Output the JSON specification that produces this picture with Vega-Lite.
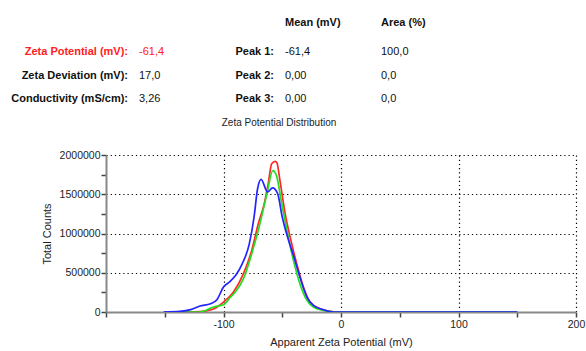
{
  "$schema": "https://vega.github.io/schema/vega-lite/v6.json",
  "width": 470,
  "height": 157,
  "autosize": {"type": "none"},
  "padding": {"left": 106, "top": 155, "right": 10, "bottom": 39},
  "background": "white",
  "config": {
    "font": "Liberation Sans",
    "view": {"stroke": null}
  },
  "datasets": {
    "curves": [
      {"run": "Record 1", "x": -150, "y": 0},
      {"run": "Record 1", "x": -130, "y": 0},
      {"run": "Record 1", "x": -120, "y": 5000},
      {"run": "Record 1", "x": -115, "y": 15000},
      {"run": "Record 1", "x": -108, "y": 42000},
      {"run": "Record 1", "x": -100, "y": 127000},
      {"run": "Record 1", "x": -91.5, "y": 255000},
      {"run": "Record 1", "x": -83, "y": 488000},
      {"run": "Record 1", "x": -76, "y": 785000},
      {"run": "Record 1", "x": -70, "y": 1146000},
      {"run": "Record 1", "x": -66, "y": 1337000},
      {"run": "Record 1", "x": -62, "y": 1630000},
      {"run": "Record 1", "x": -59, "y": 1890000},
      {"run": "Record 1", "x": -56, "y": 1920000},
      {"run": "Record 1", "x": -54.5, "y": 1900000},
      {"run": "Record 1", "x": -52, "y": 1680000},
      {"run": "Record 1", "x": -47.5, "y": 1250000},
      {"run": "Record 1", "x": -43.3, "y": 955000},
      {"run": "Record 1", "x": -37.7, "y": 616000},
      {"run": "Record 1", "x": -32, "y": 318000},
      {"run": "Record 1", "x": -26.3, "y": 127000},
      {"run": "Record 1", "x": -18, "y": 42000},
      {"run": "Record 1", "x": -9, "y": 8000},
      {"run": "Record 1", "x": -3, "y": 0},
      {"run": "Record 1", "x": 0, "y": 0},
      {"run": "Record 1", "x": 50, "y": 0},
      {"run": "Record 1", "x": 100, "y": 0},
      {"run": "Record 1", "x": 150, "y": 0},
      {"run": "Record 2", "x": -150, "y": 0},
      {"run": "Record 2", "x": -120, "y": 0},
      {"run": "Record 2", "x": -108.5, "y": 64000},
      {"run": "Record 2", "x": -100, "y": 93000},
      {"run": "Record 2", "x": -94, "y": 191000},
      {"run": "Record 2", "x": -90, "y": 255000},
      {"run": "Record 2", "x": -83, "y": 425000},
      {"run": "Record 2", "x": -76, "y": 743000},
      {"run": "Record 2", "x": -69, "y": 1125000},
      {"run": "Record 2", "x": -63, "y": 1510000},
      {"run": "Record 2", "x": -58, "y": 1800000},
      {"run": "Record 2", "x": -55, "y": 1740000},
      {"run": "Record 2", "x": -50.4, "y": 1380000},
      {"run": "Record 2", "x": -46, "y": 1040000},
      {"run": "Record 2", "x": -40.5, "y": 658000},
      {"run": "Record 2", "x": -35, "y": 361000},
      {"run": "Record 2", "x": -29, "y": 149000},
      {"run": "Record 2", "x": -23.5, "y": 64000},
      {"run": "Record 2", "x": -15, "y": 21000},
      {"run": "Record 2", "x": -7, "y": 3000},
      {"run": "Record 2", "x": -3, "y": 0},
      {"run": "Record 2", "x": 0, "y": 0},
      {"run": "Record 2", "x": 50, "y": 0},
      {"run": "Record 2", "x": 100, "y": 0},
      {"run": "Record 2", "x": 150, "y": 0},
      {"run": "Record 3", "x": -151, "y": 0},
      {"run": "Record 3", "x": -137, "y": 8000},
      {"run": "Record 3", "x": -128, "y": 30000},
      {"run": "Record 3", "x": -120, "y": 76000},
      {"run": "Record 3", "x": -111, "y": 106000},
      {"run": "Record 3", "x": -105.6, "y": 157000},
      {"run": "Record 3", "x": -100, "y": 318000},
      {"run": "Record 3", "x": -95, "y": 382000},
      {"run": "Record 3", "x": -89.6, "y": 467000},
      {"run": "Record 3", "x": -84, "y": 616000},
      {"run": "Record 3", "x": -78, "y": 871000},
      {"run": "Record 3", "x": -74, "y": 1210000},
      {"run": "Record 3", "x": -71, "y": 1570000},
      {"run": "Record 3", "x": -68, "y": 1690000},
      {"run": "Record 3", "x": -62.5, "y": 1530000},
      {"run": "Record 3", "x": -58.3, "y": 1580000},
      {"run": "Record 3", "x": -54, "y": 1510000},
      {"run": "Record 3", "x": -50, "y": 1210000},
      {"run": "Record 3", "x": -45.5, "y": 955000},
      {"run": "Record 3", "x": -40.5, "y": 722000},
      {"run": "Record 3", "x": -35, "y": 446000},
      {"run": "Record 3", "x": -29, "y": 191000},
      {"run": "Record 3", "x": -23.5, "y": 85000},
      {"run": "Record 3", "x": -15, "y": 30000},
      {"run": "Record 3", "x": -6.5, "y": 0},
      {"run": "Record 3", "x": 0, "y": 0},
      {"run": "Record 3", "x": 50, "y": 0},
      {"run": "Record 3", "x": 100, "y": 0},
      {"run": "Record 3", "x": 150, "y": 0}
    ],
    "table": [
      {"text": "Mean (mV)", "col": 2, "row": 0, "kind": "head"},
      {"text": "Area (%)", "col": 3, "row": 0, "kind": "head"},
      {"text": "Zeta Potential (mV):", "col": 1, "row": 1, "kind": "label"},
      {"text": "-61,4", "col": 1, "row": 1, "kind": "value"},
      {"text": "Zeta Deviation (mV):", "col": 1, "row": 2, "kind": "label"},
      {"text": "17,0", "col": 1, "row": 2, "kind": "value"},
      {"text": "Conductivity (mS/cm):", "col": 1, "row": 3, "kind": "label"},
      {"text": "3,26", "col": 1, "row": 3, "kind": "value"},
      {"text": "Peak 1:", "col": 2, "row": 1, "kind": "label"},
      {"text": "-61,4", "col": 2, "row": 1, "kind": "value"},
      {"text": "100,0", "col": 3, "row": 1, "kind": "value"},
      {"text": "Peak 2:", "col": 2, "row": 2, "kind": "label"},
      {"text": "0,00", "col": 2, "row": 2, "kind": "value"},
      {"text": "0,0", "col": 3, "row": 2, "kind": "value"},
      {"text": "Peak 3:", "col": 2, "row": 3, "kind": "label"},
      {"text": "0,00", "col": 2, "row": 3, "kind": "value"},
      {"text": "0,0", "col": 3, "row": 3, "kind": "value"},
      {"text": "Zeta Potential Distribution", "col": 2, "row": 4, "kind": "caption"}
    ]
  },
  "layer": [
    {
      "data": {"name": "curves"},
      "mark": {"type": "line", "strokeWidth": 1.7, "interpolate": "monotone", "clip": true},
      "encoding": {
        "x": {
          "field": "x", "type": "quantitative",
          "scale": {"domain": [-200, 200], "nice": false, "zero": false},
          "axis": {
            "title": "Apparent Zeta Potential (mV)",
            "titleFontSize": 11, "titleFontWeight": "normal", "titleColor": "#222", "titlePadding": 7,
            "values": [-200, -150, -100, -50, 0, 50, 100, 150, 200],
            "labelExpr": "(datum.value % 100 === 0 && datum.value !== -200) ? toString(datum.value) : ''",
            "labelFontSize": 10.5, "labelColor": "#222", "labelPadding": 2, "labelOverlap": false,
            "labelFlush": false,
            "domainColor": "#888", "domainWidth": 2,
            "tickColor": "#444", "tickWidth": 1.5, "tickSize": 5,
            "grid": true,
            "gridColor": "#000", "gridDash": [1.2, 3], "gridWidth": 1.2,
            "gridOpacity": {"condition": {"test": "datum.value % 100 === 0 && datum.value !== -200", "value": 1}, "value": 0}
          }
        },
        "y": {
          "field": "y", "type": "quantitative",
          "scale": {"domain": [0, 2000000], "nice": false},
          "axis": {
            "title": "Total Counts",
            "titleFontSize": 11, "titleFontWeight": "normal", "titleColor": "#222", "titlePadding": 7,
            "values": [0, 250000, 500000, 750000, 1000000, 1250000, 1500000, 1750000, 2000000],
            "labelExpr": "datum.value % 500000 === 0 ? toString(datum.value) : ''",
            "labelFontSize": 10.5, "labelColor": "#222", "labelPadding": 1, "labelOverlap": false,
            "labelFlush": false,
            "domainColor": "#888", "domainWidth": 2,
            "tickColor": "#444", "tickWidth": 1.5, "tickSize": 5,
            "grid": true,
            "gridColor": "#000", "gridDash": [1.2, 3], "gridWidth": 1.2,
            "gridOpacity": {"condition": {"test": "datum.value % 500000 === 0 && datum.value !== 0", "value": 1}, "value": 0}
          }
        },
        "color": {
          "field": "run", "type": "nominal",
          "scale": {"domain": ["Record 1", "Record 2", "Record 3"], "range": ["#ff2828", "#22dd22", "#2424ff"]},
          "legend": null
        }
      }
    },
    {
      "data": {"name": "table"},
      "transform": [{"filter": "datum.kind === 'label'"}],
      "mark": {"type": "text", "align": "right", "baseline": "middle", "dx": -11, "fontSize": 11, "fontWeight": "bold"},
      "encoding": {
        "x": {"field": "col", "type": "quantitative", "scale": {"domain": [1, 2, 3], "range": [33, 179, 275]}, "axis": null},
        "y": {"field": "row", "type": "quantitative", "scale": {"domain": [0, 1, 2, 3, 4], "range": [-132, -103, -79, -56, -32]}, "axis": null},
        "text": {"field": "text"},
        "color": {"condition": {"test": "datum.row === 1 && datum.col === 1", "value": "#ff2020"}, "value": "#111"}
      }
    },
    {
      "data": {"name": "table"},
      "transform": [{"filter": "datum.kind === 'head'"}],
      "mark": {"type": "text", "align": "left", "baseline": "middle", "fontSize": 11, "fontWeight": "bold", "color": "#111"},
      "encoding": {
        "x": {"field": "col", "type": "quantitative", "scale": {"domain": [1, 2, 3], "range": [33, 179, 275]}, "axis": null},
        "y": {"field": "row", "type": "quantitative", "scale": {"domain": [0, 1, 2, 3, 4], "range": [-132, -103, -79, -56, -32]}, "axis": null},
        "text": {"field": "text"}
      }
    },
    {
      "data": {"name": "table"},
      "transform": [{"filter": "datum.kind === 'value'"}],
      "mark": {"type": "text", "align": "left", "baseline": "middle", "fontSize": 11},
      "encoding": {
        "x": {"field": "col", "type": "quantitative", "scale": {"domain": [1, 2, 3], "range": [33, 179, 275]}, "axis": null},
        "y": {"field": "row", "type": "quantitative", "scale": {"domain": [0, 1, 2, 3, 4], "range": [-132, -103, -79, -56, -32]}, "axis": null},
        "text": {"field": "text"},
        "color": {"condition": {"test": "datum.row === 1 && datum.col === 1", "value": "#ff2020"}, "value": "#111"}
      }
    },
    {
      "data": {"name": "table"},
      "transform": [{"filter": "datum.kind === 'caption'"}],
      "mark": {"type": "text", "align": "center", "baseline": "middle", "dx": -6, "fontSize": 10, "color": "#222"},
      "encoding": {
        "x": {"field": "col", "type": "quantitative", "scale": {"domain": [1, 2, 3], "range": [33, 179, 275]}, "axis": null},
        "y": {"field": "row", "type": "quantitative", "scale": {"domain": [0, 1, 2, 3, 4], "range": [-132, -103, -79, -56, -32]}, "axis": null},
        "text": {"field": "text"}
      }
    }
  ],
  "resolve": {"scale": {"x": "independent", "y": "independent"}, "axis": {"x": "independent", "y": "independent"}}
}
